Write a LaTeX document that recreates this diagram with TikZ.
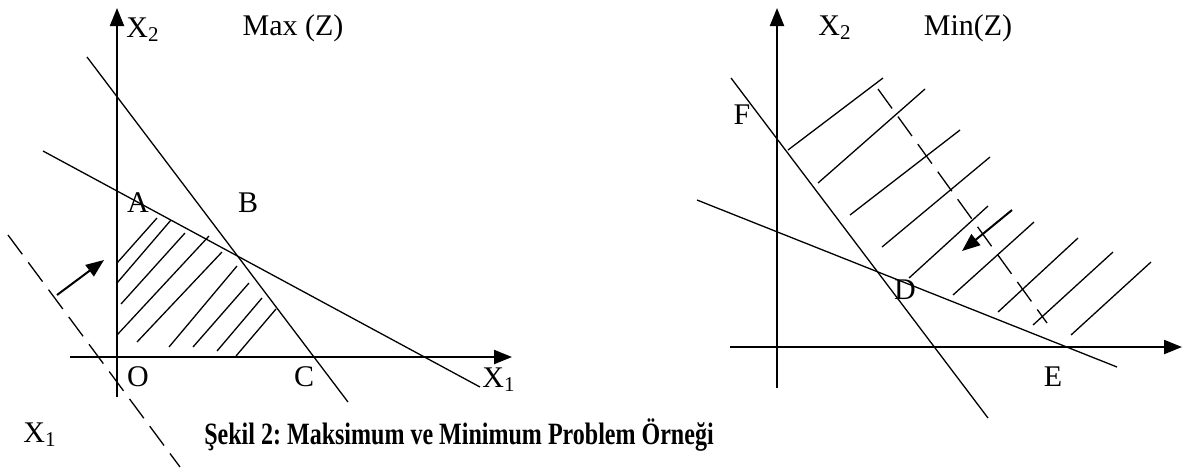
\documentclass[tikz,border=0pt]{standalone}
\usepackage{fontspec}
\setmainfont{Liberation Serif}
\usetikzlibrary{arrows.meta}
\frenchspacing
\begin{document}
\begin{tikzpicture}[x=0.5pt,y=-0.5pt,
  axis/.style={line width=1.1pt,-{Triangle[length=9pt,width=7pt]}},
  ln/.style={line width=0.65pt},
  hatch/.style={line width=0.65pt},
  dsh/.style={line width=0.65pt,dash pattern=on 12pt off 5pt},
  mv/.style={line width=1pt,-{Triangle[length=9pt,width=7pt]}},
  lbl/.style={inner sep=0pt,font=\fontsize{15}{18}\selectfont},
  captext/.style={inner sep=0pt,font=\fontsize{15.5}{18}\selectfont\bfseries}]
\useasboundingbox (0,0) rectangle (1186,468);
% ---------- left figure ----------
\coordinate (Ly0) at (117,397); \coordinate (Ly1) at (117,8);
\coordinate (Lx0) at (70,357);  \coordinate (Lx1) at (512,357);
\draw[axis] (Ly0) -- (Ly1);
\draw[axis] (Lx0) -- (Lx1);
\coordinate (Ls0) at (87,57);  \coordinate (Ls1) at (348,402);
\draw[ln] (Ls0) -- (Ls1);
\coordinate (Lh0) at (43,151); \coordinate (Lh1) at (480,387);
\draw[ln] (Lh0) -- (Lh1);
\foreach \a/\b/\c/\d [count=\i] in {117/263/157/218,117/283/171/220,121/304/185/233,117/335/209/236,137/342/222/252,169/347/237/266,193/347/249/283,217/351/262/298,236/356/276/309}{
  \coordinate (lh\i a) at (\a,\b); \coordinate (lh\i b) at (\c,\d);
  \draw[hatch] (lh\i a) -- (lh\i b);
}
\coordinate (Ld0) at (8,235); \coordinate (Ld1) at (180,467);
\draw[dsh] (Ld0) -- (Ld1);
\coordinate (La0) at (57,295); \coordinate (La1) at (104,260);
\draw[mv] (La0) -- (La1);
\node[lbl] (lX2) at (143,30) {X\textsubscript{2}};
\node[lbl] (lmax) at (293,28) {Max (Z)};
\node[lbl] (A) at (138,203) {A};
\node[lbl] (B) at (248,203) {B};
\node[lbl] (O) at (138,377) {O};
\node[lbl] (C) at (304,377) {C};
\node[lbl] (lX1r) at (499,380) {X\textsubscript{1}};
\node[lbl] (lX1l) at (40,435) {X\textsubscript{1}};
% ---------- caption ----------
\node[captext] (caption) at (459,435) {\scalebox{0.775}[1]{Şekil 2: Maksimum ve Minimum Problem Örneği}};
% ---------- right figure ----------
\coordinate (Ry0) at (777,388); \coordinate (Ry1) at (777,8);
\coordinate (Rx0) at (730,347); \coordinate (Rx1) at (1182,347);
\draw[axis] (Ry0) -- (Ry1);
\draw[axis] (Rx0) -- (Rx1);
\coordinate (Rs0) at (731,78);  \coordinate (Rs1) at (988,418);
\draw[ln] (Rs0) -- (Rs1);
\coordinate (Rh0) at (697,200); \coordinate (Rh1) at (1117,367);
\draw[ln] (Rh0) -- (Rh1);
\foreach \a/\b/\c/\d [count=\i] in {788/150/883/78,818/183/925/89,850/215/960/130,882/247/990/157,909/278/988/206,953/295/1034/222,998/312/1078/238,1033/325/1113/252,1071/335/1151/262}{
  \coordinate (rh\i a) at (\a,\b); \coordinate (rh\i b) at (\c,\d);
  \draw[hatch] (rh\i a) -- (rh\i b);
}
\coordinate (Rd0) at (878,89); \coordinate (Rd1) at (1047,323);
\draw[dsh] (Rd0) -- (Rd1);
\coordinate (Ra0) at (1012,210); \coordinate (Ra1) at (962,251);
\draw[mv] (Ra0) -- (Ra1);
\node[lbl] (rX2) at (835,28) {X\textsubscript{2}};
\node[lbl] (rmin) at (968,28) {Min(Z)};
\node[lbl] (F) at (742,115) {F};
\node[lbl] (D) at (905,290) {D};
\node[lbl] (E) at (1053,377) {E};
\end{tikzpicture}
\end{document}
